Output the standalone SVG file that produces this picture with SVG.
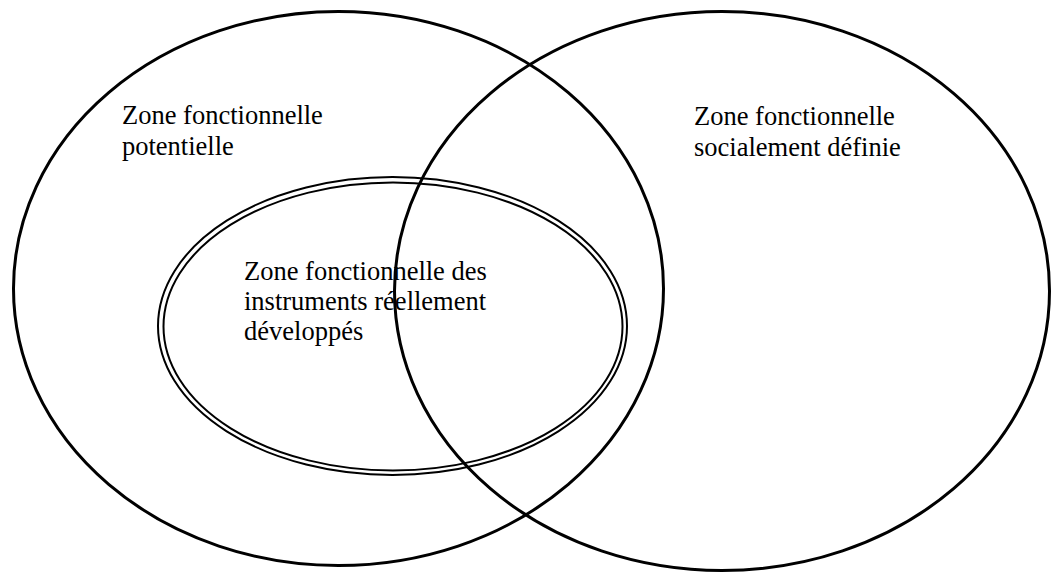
<svg xmlns="http://www.w3.org/2000/svg" width="1052" height="572" viewBox="0 0 1052 572">
<style>
.zone{fill:none;stroke:#000;stroke-width:3}
.dbl{fill:none;stroke:#000;stroke-width:2}
.lbl{font-family:"Liberation Serif","Times New Roman",serif;font-size:26.5px;fill:#000}
</style>
<rect width="1052" height="572" fill="#fff"/>
<g id="zone-potentielle">
<ellipse class="zone" cx="338.5" cy="288.5" rx="325" ry="277"/>
<text class="lbl" x="122" y="123.5">Zone fonctionnelle</text>
<text class="lbl" x="122" y="154.5">potentielle</text>
</g>
<g id="zone-sociale">
<ellipse class="zone" cx="722" cy="291" rx="327.5" ry="279.5"/>
<text class="lbl" x="694" y="125">Zone fonctionnelle</text>
<text class="lbl" x="694" y="155.5">socialement définie</text>
</g>
<g id="zone-instruments">
<ellipse class="dbl" cx="392.5" cy="326" rx="234.5" ry="149"/>
<ellipse class="dbl" cx="393" cy="326.5" rx="229.5" ry="144"/>
<text class="lbl" x="244" y="280">Zone fonctionnelle des</text>
<text class="lbl" x="244" y="310">instruments réellement</text>
<text class="lbl" x="244" y="339.5">développés</text>
</g>
<g id="connectors"></g>
</svg>
